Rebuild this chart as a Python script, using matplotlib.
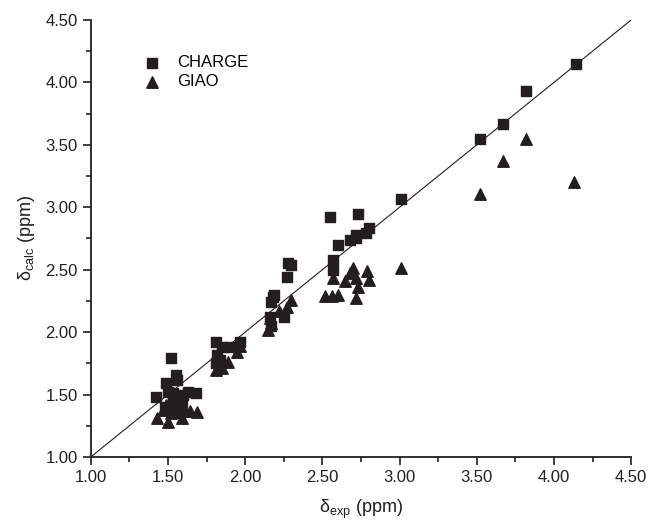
import matplotlib.pyplot as plt
from matplotlib.ticker import MultipleLocator, FormatStrFormatter

plt.rcParams['font.family'] = ['Liberation Sans', 'DejaVu Sans']
plt.rcParams['mathtext.fontset'] = 'custom'
plt.rcParams['mathtext.rm'] = 'Liberation Sans'

# CHARGE (squares)
charge_exp = [1.42, 1.49, 1.52, 1.55, 1.56, 1.50, 1.53, 1.60, 1.63, 1.68, 1.48, 1.53, 1.57, 1.59,
              1.81, 1.85, 1.90, 1.97, 1.82, 1.84, 1.81,
              2.17, 2.18, 2.28, 2.30, 2.27, 2.19, 2.16, 2.25, 2.17,
              2.55, 2.57, 2.57, 2.60, 2.68, 2.72, 2.73, 2.72, 2.78, 2.80,
              3.01, 3.52, 3.67, 3.82, 4.14]
charge_calc = [1.48, 1.59, 1.79, 1.66, 1.62, 1.52, 1.51, 1.50, 1.52, 1.51, 1.40, 1.45, 1.47, 1.42,
               1.92, 1.88, 1.88, 1.92, 1.82, 1.78, 1.75,
               2.24, 2.28, 2.55, 2.54, 2.44, 2.30, 2.12, 2.12, 2.05,
               2.92, 2.58, 2.50, 2.70, 2.74, 2.75, 2.95, 2.78, 2.79, 2.83,
               3.07, 3.55, 3.67, 3.93, 4.15]

# GIAO (triangles)
giao_exp = [1.43, 1.47, 1.50, 1.52, 1.54, 1.57, 1.59, 1.61, 1.64, 1.69, 1.51, 1.56, 1.49,
            1.81, 1.85, 1.89, 1.95, 1.97, 1.83,
            2.30, 2.27, 2.16, 2.17, 2.15, 2.22,
            2.52, 2.56, 2.60, 2.57, 2.68, 2.70, 2.72, 2.73, 2.72, 2.79, 2.80, 2.65,
            3.01, 3.52, 3.67, 3.82, 4.13]
giao_calc = [1.31, 1.38, 1.28, 1.35, 1.40, 1.36, 1.31, 1.38, 1.37, 1.36, 1.43, 1.45, 1.42,
             1.70, 1.71, 1.76, 1.84, 1.89, 1.80,
             2.26, 2.20, 2.11, 2.07, 2.02, 2.17,
             2.29, 2.29, 2.30, 2.43, 2.47, 2.51, 2.43, 2.36, 2.27, 2.49, 2.42, 2.41,
             2.51, 3.11, 3.37, 3.55, 3.20]

ink = '#231f20'

fig = plt.figure(figsize=(6.48, 5.25), dpi=100)
ax = fig.add_axes([0.140, 0.1295, 0.834, 0.8325])

# y = x reference line
ax.plot([1.0, 4.5], [1.0, 4.5], color=ink, lw=0.8, zorder=1)
ax.scatter(charge_exp, charge_calc, marker='s', s=48, color=ink, label='CHARGE', zorder=3)
ax.scatter(giao_exp, giao_calc, marker='^', s=68, color=ink, label='GIAO', zorder=3)

ax.set_xlim(1.0, 4.5)
ax.set_ylim(1.0, 4.5)
ax.xaxis.set_major_locator(MultipleLocator(0.5))
ax.yaxis.set_major_locator(MultipleLocator(0.5))
ax.xaxis.set_minor_locator(MultipleLocator(0.25))
ax.yaxis.set_minor_locator(MultipleLocator(0.25))
ax.xaxis.set_major_formatter(FormatStrFormatter('%.2f'))
ax.yaxis.set_major_formatter(FormatStrFormatter('%.2f'))
ax.tick_params(which='both', direction='out', colors=ink, width=1.2, labelsize=12)
ax.tick_params(which='major', length=6)
ax.tick_params(which='minor', length=3.5)

for side in ['top', 'right']:
    ax.spines[side].set_visible(False)
for side in ['left', 'bottom']:
    ax.spines[side].set_linewidth(1.3)
    ax.spines[side].set_color(ink)

ax.set_xlabel('δ$_{\\mathrm{exp}}$ (ppm)', fontsize=13, color=ink, labelpad=9)
ax.set_ylabel('δ$_{\\mathrm{calc}}$ (ppm)', fontsize=13, color=ink, labelpad=6)

ax.legend(loc='upper left', bbox_to_anchor=(0.07, 0.935), frameon=False, fontsize=12,
          handletextpad=0.5, labelspacing=0.25, borderaxespad=0)

fig.savefig('out.png', dpi=100)
